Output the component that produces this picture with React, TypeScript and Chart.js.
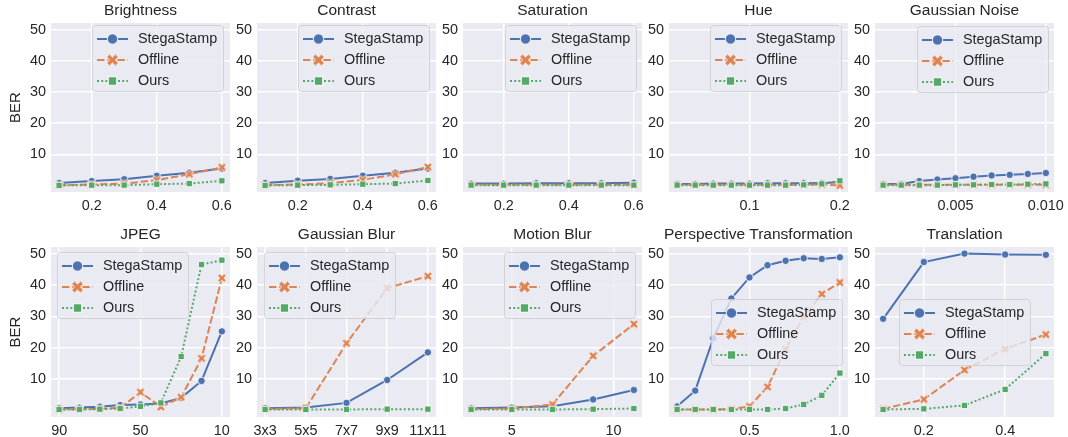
import React, { useEffect, useRef } from 'react';
import { Chart, registerables } from 'chart.js';

Chart.register(...registerables);

// ---------------- data ----------------
const seriesNames = ['StegaStamp', 'Offline', 'Ours'];

const brightnessX = [0.1, 0.2, 0.3, 0.4, 0.5, 0.6];
const brightnessSteg = [0.8, 1.4, 2.0, 3.1, 4.1, 5.4];
const brightnessOffline = [0.1, 0.3, 0.6, 1.7, 3.6, 5.8];
const brightnessOurs = [0.0, 0.1, 0.1, 0.4, 0.6, 1.5];
const brightnessTicks = [0.2, 0.4, 0.6];
const brightnessTickLabels = ['0.2', '0.4', '0.6'];

const contrastX = [0.1, 0.2, 0.3, 0.4, 0.5, 0.6];
const contrastSteg = [0.8, 1.5, 2.1, 3.1, 4.1, 5.4];
const contrastOffline = [0.1, 0.3, 0.7, 1.8, 3.6, 5.9];
const contrastOurs = [0.0, 0.1, 0.2, 0.4, 0.6, 1.6];
const contrastTicks = [0.2, 0.4, 0.6];
const contrastTickLabels = ['0.2', '0.4', '0.6'];

const saturationX = [0.1, 0.2, 0.3, 0.4, 0.5, 0.6];
const saturationSteg = [0.6, 0.6, 0.7, 0.7, 0.7, 0.9];
const saturationOffline = [0.2, 0.2, 0.2, 0.2, 0.2, 0.2];
const saturationOurs = [0.1, 0.1, 0.1, 0.1, 0.1, 0.1];
const saturationTicks = [0.2, 0.4, 0.6];
const saturationTickLabels = ['0.2', '0.4', '0.6'];

const hueX = [0.02, 0.04, 0.06, 0.08, 0.1, 0.12, 0.14, 0.16, 0.18, 0.2];
const hueSteg = [0.5, 0.5, 0.6, 0.6, 0.6, 0.7, 0.7, 0.7, 0.8, 1.0];
const hueOffline = [0.2, 0.2, 0.2, 0.2, 0.2, 0.2, 0.2, 0.2, 0.3, 0.0];
const hueOurs = [0.1, 0.1, 0.1, 0.1, 0.1, 0.1, 0.1, 0.2, 0.5, 1.5];
const hueTicks = [0.1, 0.2];
const hueTickLabels = ['0.1', '0.2'];

const noiseX = [0.001, 0.002, 0.003, 0.004, 0.005, 0.006, 0.007, 0.008, 0.009, 0.01];
const noiseSteg = [0.5, 0.5, 1.4, 1.9, 2.3, 2.8, 3.2, 3.4, 3.7, 4.0];
const noiseOffline = [0.2, 0.2, 0.2, 0.2, 0.2, 0.2, 0.2, 0.2, 0.2, 0.2];
const noiseOurs = [0.1, 0.1, 0.1, 0.1, 0.2, 0.2, 0.3, 0.3, 0.4, 0.5];
const noiseTicks = [0.005, 0.01];
const noiseTickLabels = ['0.005', '0.010'];

const jpegX = [90, 80, 70, 60, 50, 40, 30, 20, 10];
const jpegSteg = [0.7, 0.9, 1.2, 1.7, 1.9, 2.2, 4.0, 9.4, 25.2];
const jpegOffline = [0.3, 0.4, 0.5, 0.8, 5.8, 1.1, 4.2, 16.6, 42.2];
const jpegOurs = [0.3, 0.3, 0.4, 0.6, 1.3, 2.4, 17.2, 46.5, 47.9];
const jpegTicks = [90, 50, 10];
const jpegTickLabels = ['90', '50', '10'];

const blurCategories = ['3x3', '5x5', '7x7', '9x9', '11x11'];
const blurX = blurCategories.map((_, i) => i);
const blurSteg = [0.7, 0.9, 2.4, 9.7, 18.5];
const blurOffline = [0.4, 0.7, 21.4, 39.0, 42.8];
const blurOurs = [0.3, 0.3, 0.3, 0.4, 0.4];

const motionX = [3, 5, 7, 9, 11];
const motionSteg = [0.7, 0.9, 1.3, 3.5, 6.5];
const motionOffline = [0.4, 0.6, 1.9, 17.4, 27.5];
const motionOurs = [0.3, 0.3, 0.3, 0.4, 0.6];
const motionTicks = [5, 10];
const motionTickLabels = ['5', '10'];

const perspX = [0.1, 0.2, 0.3, 0.4, 0.5, 0.6, 0.7, 0.8, 0.9, 1.0];
const perspSteg = [1.3, 6.3, 23.0, 35.7, 42.4, 46.3, 47.7, 48.5, 48.3, 48.8];
const perspOffline = [0.3, 0.3, 0.3, 0.4, 1.3, 7.5, 19.5, 29.9, 37.1, 40.8];
const perspOurs = [0.3, 0.3, 0.3, 0.3, 0.3, 0.3, 0.6, 1.9, 4.8, 11.9];
const perspTicks = [0.5, 1.0];
const perspTickLabels = ['0.5', '1.0'];

const transX = [0.1, 0.2, 0.3, 0.4, 0.5];
const transSteg = [29.2, 47.3, 50.0, 49.7, 49.6];
const transOffline = [0.5, 3.5, 12.9, 19.6, 24.2];
const transOurs = [0.3, 0.5, 1.6, 6.7, 18.1];
const transTicks = [0.2, 0.4];
const transTickLabels = ['0.2', '0.4'];

const yTicks = [10, 20, 30, 40, 50];
const yTickLabels = ['10', '20', '30', '40', '50'];
const yLabel = 'BER';

// ---------------- panels ----------------
type Legend = { loc: 'ur' | 'ul' | 'cr'; dx: number; dy: number };
type Panel = {
  title: string;
  x: number[];
  series: number[][];
  ticks: number[];
  tickLabels: string[];
  reverse?: boolean;
  legend: Legend;
};

function padRange(xs: number[]) {
  const lo = Math.min(...xs);
  const hi = Math.max(...xs);
  const m = (hi - lo) * 0.05;
  return [lo - m, hi + m];
}

const PANELS: Panel[] = [
  { title: 'Brightness', x: brightnessX, series: [brightnessSteg, brightnessOffline, brightnessOurs], ticks: brightnessTicks, tickLabels: brightnessTickLabels, legend: { loc: 'ur', dx: 7, dy: 2 } },
  { title: 'Contrast', x: contrastX, series: [contrastSteg, contrastOffline, contrastOurs], ticks: contrastTicks, tickLabels: contrastTickLabels, legend: { loc: 'ur', dx: 7, dy: 2 } },
  { title: 'Saturation', x: saturationX, series: [saturationSteg, saturationOffline, saturationOurs], ticks: saturationTicks, tickLabels: saturationTickLabels, legend: { loc: 'ur', dx: 6, dy: 2 } },
  { title: 'Hue', x: hueX, series: [hueSteg, hueOffline, hueOurs], ticks: hueTicks, tickLabels: hueTickLabels, legend: { loc: 'ur', dx: 7, dy: 2 } },
  { title: 'Gaussian Noise', x: noiseX, series: [noiseSteg, noiseOffline, noiseOurs], ticks: noiseTicks, tickLabels: noiseTickLabels, legend: { loc: 'ur', dx: 6, dy: 3 } },
  { title: 'JPEG', x: jpegX, series: [jpegSteg, jpegOffline, jpegOurs], ticks: jpegTicks, tickLabels: jpegTickLabels, reverse: true, legend: { loc: 'ul', dx: 6, dy: 5 } },
  { title: 'Gaussian Blur', x: blurX, series: [blurSteg, blurOffline, blurOurs], ticks: blurX, tickLabels: blurCategories, legend: { loc: 'ul', dx: 7, dy: 5 } },
  { title: 'Motion Blur', x: motionX, series: [motionSteg, motionOffline, motionOurs], ticks: motionTicks, tickLabels: motionTickLabels, legend: { loc: 'ur', dx: 7, dy: 5 } },
  { title: 'Perspective Transformation', x: perspX, series: [perspSteg, perspOffline, perspOurs], ticks: perspTicks, tickLabels: perspTickLabels, legend: { loc: 'cr', dx: 6, dy: 0 } },
  { title: 'Translation', x: transX, series: [transSteg, transOffline, transOurs], ticks: transTicks, tickLabels: transTickLabels, legend: { loc: 'cr', dx: 24, dy: 0 } },
];

// ---------------- layout / style ----------------
const FONT = '"Liberation Sans", Arial, Helvetica, sans-serif';
const TEXT = '#262626';
const BG = '#EAEAF2';
const COLORS = ['#4C72B0', '#DD8452', '#55A868'];
const DASHES = [[], [7.4, 2.8], [2, 2.2]];
const LINE_W = 2;
const TICK_SIZE = 14.4;
const LEGEND_SIZE = 14.4;

const COL_LEFT = [51, 257, 463, 669, 875];
const ROW_TOP = [23, 247];
const PLOT_W = 179;
const PLOT_H = [169, 170];
const AXIS_W = 51;
const TOP_PAD = 23;
const RIGHT_PAD = 25;
const AXIS_H = 24;
const Y_MIN = -2.1;
const Y_MAX = 52.1;

function makeXMarker(size: number, color: string) {
  const c = document.createElement('canvas');
  c.width = size;
  c.height = size;
  const g = c.getContext('2d')!;
  g.translate(size / 2, size / 2);
  g.rotate(Math.PI / 4);
  const L = (size / 2 - 0.6) * Math.SQRT2 * 0.75;
  const w = L / 3;
  const pts = [
    [-w, -L], [w, -L], [w, -w], [L, -w], [L, w], [w, w],
    [w, L], [-w, L], [-w, w], [-L, w], [-L, -w], [-w, -w],
  ];
  g.beginPath();
  pts.forEach(([px, py], i) => (i ? g.lineTo(px, py) : g.moveTo(px, py)));
  g.closePath();
  g.fillStyle = color;
  g.fill();
  g.strokeStyle = '#ffffff';
  g.lineWidth = 0.8;
  g.stroke();
  return c;
}

function makeChart(canvas: HTMLCanvasElement, p: Panel, index: number) {
  const col = index % 5;
  const [xMin, xMax] = padRange(p.x);
  const xPlot = makeXMarker(10, COLORS[1]);
  const xLegend = makeXMarker(13, COLORS[1]);

  const datasets = p.series.map((vals, si) => ({
    label: seriesNames[si],
    data: p.x.map((xv, k) => ({ x: xv, y: vals[k] })),
    borderColor: COLORS[si],
    backgroundColor: COLORS[si],
    borderWidth: LINE_W,
    borderDash: DASHES[si],
    tension: 0,
    pointStyle: si === 0 ? 'circle' : si === 1 ? xPlot : 'rect',
    pointRadius: si === 0 ? 3.7 : si === 1 ? 4 : 4.4,
    pointBackgroundColor: COLORS[si],
    pointBorderColor: '#ffffff',
    pointBorderWidth: 0.8,
    order: 3 - si,
  }));

  const decor = {
    id: 'decor',
    beforeDraw(chart: any) {
      const { ctx, chartArea: a } = chart;
      ctx.save();
      ctx.fillStyle = BG;
      ctx.fillRect(a.left, a.top, a.right - a.left, a.bottom - a.top);
      ctx.restore();
    },
    afterDraw(chart: any) {
      const { ctx, chartArea: a } = chart;
      ctx.save();
      // title
      ctx.fillStyle = TEXT;
      ctx.font = `15.5px ${FONT}`;
      ctx.textAlign = 'center';
      ctx.textBaseline = 'alphabetic';
      ctx.fillText(p.title, (a.left + a.right) / 2, a.top - 8);
      // y label
      if (col === 0) {
        ctx.save();
        ctx.translate(16, (a.top + a.bottom) / 2);
        ctx.rotate(-Math.PI / 2);
        ctx.font = `15px ${FONT}`;
        ctx.textBaseline = 'middle';
        ctx.fillText(yLabel, 0, 0);
        ctx.restore();
      }
      // legend
      const W = 131;
      const H = 66;
      let bx = a.right - W - p.legend.dx;
      let by = a.top + p.legend.dy;
      if (p.legend.loc === 'ul') bx = a.left + p.legend.dx;
      if (p.legend.loc === 'cr') by = (a.top + a.bottom) / 2 - H / 2;
      ctx.beginPath();
      (ctx as any).roundRect(bx + 0.5, by + 0.5, W, H, 3);
      ctx.fillStyle = 'rgba(234,234,242,0.8)';
      ctx.fill();
      ctx.strokeStyle = 'rgba(204,204,204,0.8)';
      ctx.lineWidth = 1;
      ctx.stroke();
      for (let i = 0; i < 3; i++) {
        const cy = by + 14 + 21 * i;
        ctx.beginPath();
        ctx.setLineDash(DASHES[i]);
        ctx.strokeStyle = COLORS[i];
        ctx.lineWidth = LINE_W;
        ctx.moveTo(bx + 5, cy);
        ctx.lineTo(bx + 36, cy);
        ctx.stroke();
        ctx.setLineDash([]);
        const mx = bx + 20.5;
        if (i === 0) {
          ctx.beginPath();
          ctx.arc(mx, cy, 5.2, 0, Math.PI * 2);
          ctx.fillStyle = COLORS[0];
          ctx.fill();
          ctx.strokeStyle = '#fff';
          ctx.lineWidth = 0.9;
          ctx.stroke();
        } else if (i === 1) {
          ctx.drawImage(xLegend, mx - xLegend.width / 2, cy - xLegend.height / 2);
        } else {
          ctx.fillStyle = COLORS[2];
          ctx.fillRect(mx - 4.2, cy - 4.2, 8.4, 8.4);
          ctx.strokeStyle = '#fff';
          ctx.lineWidth = 0.9;
          ctx.strokeRect(mx - 4.2, cy - 4.2, 8.4, 8.4);
        }
        ctx.fillStyle = TEXT;
        ctx.font = `${LEGEND_SIZE}px ${FONT}`;
        ctx.textAlign = 'left';
        ctx.textBaseline = 'middle';
        ctx.fillText(seriesNames[i], bx + 46, cy);
      }
      ctx.restore();
    },
  };

  const tickFont = { family: FONT, size: TICK_SIZE };

  return new Chart(canvas, {
    type: 'line',
    data: { datasets: datasets as any },
    options: {
      animation: false,
      responsive: false,
      events: [],
      layout: { padding: { top: TOP_PAD, right: RIGHT_PAD, left: 0, bottom: 0 } },
      plugins: { legend: { display: false }, title: { display: false }, tooltip: { enabled: false } },
      scales: {
        x: {
          type: 'linear',
          min: xMin,
          max: xMax,
          reverse: !!p.reverse,
          border: { display: false },
          grid: { color: '#ffffff', lineWidth: 1.4, drawTicks: false },
          ticks: {
            font: tickFont,
            color: TEXT,
            padding: 5,
            autoSkip: false,
            maxRotation: 0,
            minRotation: 0,
            callback: (_v: any, i: number) => p.tickLabels[i],
          },
          afterBuildTicks: (s: any) => {
            s.ticks = p.ticks.map((v) => ({ value: v }));
          },
          afterFit: (s: any) => {
            s.height = AXIS_H;
          },
        },
        y: {
          type: 'linear',
          min: Y_MIN,
          max: Y_MAX,
          border: { display: false },
          grid: { color: '#ffffff', lineWidth: 1.4, drawTicks: false },
          ticks: {
            font: tickFont,
            color: TEXT,
            padding: 5,
            autoSkip: false,
            callback: (_v: any, i: number) => yTickLabels[i],
          },
          afterBuildTicks: (s: any) => {
            s.ticks = yTicks.map((v) => ({ value: v }));
          },
          afterFit: (s: any) => {
            s.width = AXIS_W;
          },
        },
      },
    } as any,
    plugins: [decor as any],
  });
}

export default function App() {
  const refs = useRef<(HTMLCanvasElement | null)[]>([]);

  useEffect(() => {
    const charts = PANELS.map((p, i) => makeChart(refs.current[i]!, p, i));
    return () => charts.forEach((c) => c.destroy());
  }, []);

  return (
    <div
      style={{
        position: 'absolute',
        left: 0,
        top: 0,
        width: 1068,
        height: 437,
        background: '#ffffff',
        overflow: 'hidden',
      }}
    >
      {PANELS.map((p, i) => {
        const col = i % 5;
        const row = Math.floor(i / 5);
        const w = AXIS_W + PLOT_W + RIGHT_PAD;
        const h = TOP_PAD + PLOT_H[row] + AXIS_H;
        return (
          <canvas
            key={p.title}
            ref={(el) => {
              refs.current[i] = el;
            }}
            width={w}
            height={h}
            style={{
              position: 'absolute',
              left: COL_LEFT[col] - AXIS_W,
              top: ROW_TOP[row] - TOP_PAD,
              width: w,
              height: h,
            }}
          />
        );
      })}
    </div>
  );
}
